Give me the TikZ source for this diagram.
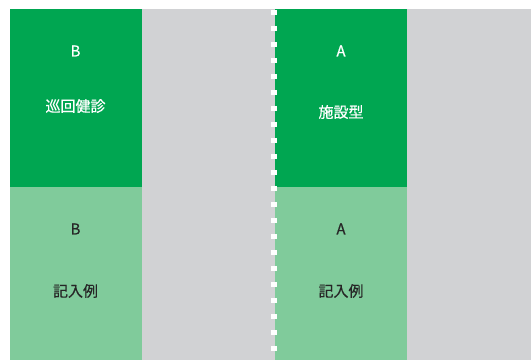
\documentclass[tikz,border=0pt]{standalone}
\usepackage{fontspec}
\newfontfamily\jp[FakeBold=0.6]{Noto Sans CJK JP}
\usetikzlibrary{positioning}
\definecolor{darkgreen}{RGB}{0,166,81}
\definecolor{lightgreen}{RGB}{128,203,155}
\definecolor{paneGray}{RGB}{209,210,212}
\tikzset{
  light label/.style={text=white, font=\jp\fontsize{15}{17}\selectfont},
  dark label/.style={text=black!85, font=\jp\fontsize{15}{17}\selectfont}
}

\begin{document}
\begin{tikzpicture}[x=1pt, y=1pt, every node/.style={align=center}]
\useasboundingbox (0,0) rectangle (531,360);
\fill[white] (0,0) rectangle (531,360);
\fill[darkgreen] (10,173) rectangle (141.5,351); % B upper
\fill[lightgreen] (10,0) rectangle (141.5,173); % B lower
\fill[paneGray] (141.5,0) rectangle (275,351);
\fill[darkgreen] (275,173) rectangle (407,351); % A upper
\fill[lightgreen] (275,0) rectangle (407,173); % A lower
\fill[paneGray] (407,0) rectangle (531,351);
\draw[white, line width=6pt, dash pattern=on 5pt off 11pt] (274,350) -- (274,0);
\node[light label] (bTop) at (75.5,309) {B};
\node[light label] (bName) at (75.5,254) {巡回健診};
\node[light label] (aTop) at (341,309) {A};
\node[light label] (aName) at (341,248) {施設型};
\node[dark label] (bLow) at (75.5,131) {B};
\node[dark label] (bNote) at (75.5,69) {記入例};
\node[dark label] (aLow) at (341,131) {A};
\node[dark label] (aNote) at (341,69) {記入例};
\end{tikzpicture}
\end{document}
